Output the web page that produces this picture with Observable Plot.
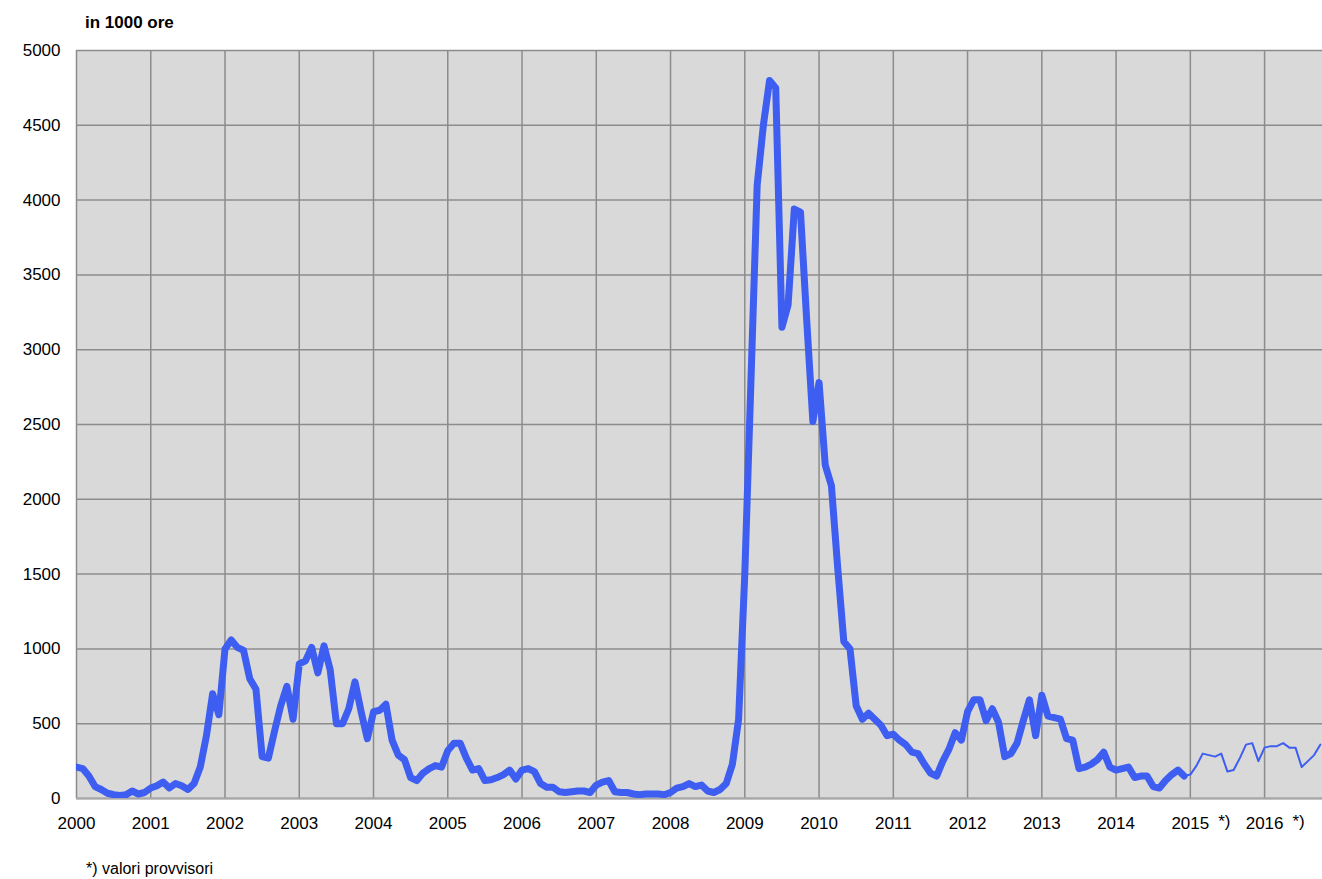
<!DOCTYPE html>
<html>
<head>
<meta charset="utf-8">
<script src="https://cdn.jsdelivr.net/npm/d3@7"></script>
<script src="https://cdn.jsdelivr.net/npm/@observablehq/plot@0.6"></script>
<style>
  body { margin: 0; font-family: Arial, "Liberation Sans", sans-serif; background: #fff; }
  #wrap { position: relative; width: 1322px; height: 879px; }
  #titolo { position: absolute; left: 85px; top: 13px; font-weight: bold; font-size: 17px; }
  #nota { position: absolute; left: 86px; top: 860px; font-size: 16px; }
  #chart { position: absolute; left: 0; top: 0; }
</style>
</head>
<body>
<div id="wrap">
  <div id="chart"></div>
  <div id="titolo">in 1000 ore</div>
  <div id="nota">*) valori provvisori</div>
</div>
<script>
// ore mensili (in 1000), gen 2000 - dic 2014 definitivi
const definitivi = [
  210, 200, 150, 80, 60, 35, 25, 20, 25, 50, 30, 40,
  70, 85, 110, 70, 100, 85, 60, 100, 210, 420, 700, 560,
  1000, 1060, 1010, 990, 800, 730, 280, 270, 450, 620, 750, 530,
  900, 920, 1010, 840, 1020, 860, 500, 500, 600, 780, 580, 400,
  580, 590, 630, 390, 290, 260, 140, 120, 170, 200, 220, 210,
  320, 370, 370, 270, 190, 200, 120, 125, 140, 160, 190, 130,
  190, 200, 180, 100, 75, 75, 45, 40, 45, 50, 50, 40,
  90, 110, 120, 45, 40, 40, 30, 25, 30, 30, 30, 25,
  40, 70, 80, 100, 80, 90, 50, 40, 60, 100, 230, 530,
  1500, 2800, 4100, 4500, 4800, 4750, 3150, 3300, 3940, 3920, 3200, 2520,
  2780, 2230, 2090, 1550, 1050, 1000, 620, 530, 570, 530, 490, 420,
  430, 390, 360, 310, 300, 230, 170, 150, 250, 330, 440, 390,
  580, 660, 660, 520, 600, 510, 280, 300, 370, 520, 660, 420,
  690, 550, 540, 530, 400, 390, 200, 210, 230, 260, 310, 210,
  190, 200, 210, 140, 150, 150, 80, 70, 120, 160, 190, 150
];
// gen 2015 - ott 2016 provvisori
const provvisori = [
  160, 220, 300, 290, 280, 300, 180, 190, 270, 360, 370, 250,
  340, 350, 350, 370, 340, 340, 210, 250, 290, 360
];
const anni = d3.range(2000, 2017);
const anniProvvisori = [2015, 2016];
const yTicks = d3.range(0, 5001, 500);

const serieDef = definitivi.map((v, i) => ({x: 2000 + i / 12, y: v}));
const serieProv = [{x: 2014 + 11 / 12, y: definitivi[definitivi.length - 1]}]
  .concat(provvisori.map((v, i) => ({x: 2015 + i / 12, y: v})));

const chart = Plot.plot({
  width: 1322,
  height: 840,
  marginLeft: 76,
  marginRight: 0,
  marginTop: 50,
  marginBottom: 42,
  style: {fontFamily: "Arial, 'Liberation Sans', sans-serif", fontSize: "17px", color: "#000", overflow: "visible"},
  x: {domain: [2000, 2016.78], ticks: anni, tickFormat: d => String(d), tickSize: 0, tickPadding: 18, label: null},
  y: {domain: [0, 5000], ticks: yTicks, tickFormat: d => String(d), tickSize: 0, tickPadding: 16, label: null},
  marks: [
    Plot.frame({fill: "#d9d9d9"}),
    Plot.gridX(anni, {stroke: "#8c8c8c", strokeOpacity: 1, strokeWidth: 1.5}),
    Plot.gridY(yTicks, {stroke: "#8c8c8c", strokeOpacity: 1, strokeWidth: 1.5}),
    Plot.ruleY([0], {stroke: "#a6a6a6", strokeWidth: 2}),
    Plot.line(serieDef, {x: "x", y: "y", stroke: "#3d5ef0", strokeWidth: 7, strokeLinejoin: "round", clip: true}),
    Plot.line(serieProv, {x: "x", y: "y", stroke: "#3d5ef0", strokeWidth: 2, clip: true}),
    Plot.text(anniProvvisori, {x: d => d, y: 0, text: () => "*)", dx: 34, dy: 23, fontSize: 17})
  ]
});
document.getElementById("chart").append(chart);
</script>
</body>
</html>
